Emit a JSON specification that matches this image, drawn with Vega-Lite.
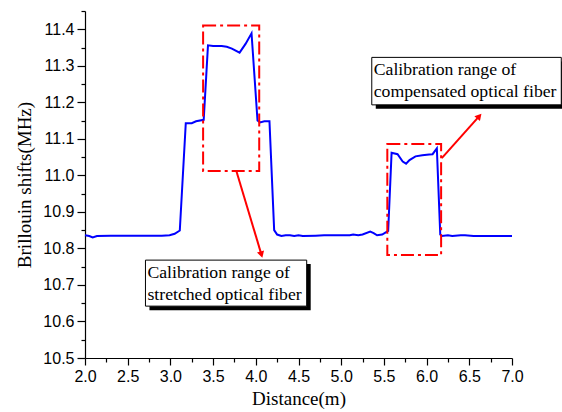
{
  "$schema": "https://vega.github.io/schema/vega-lite/v6.json",
  "width": 427,
  "height": 347,
  "autosize": {"type": "none"},
  "padding": {"left": 85, "top": 11, "right": 50, "bottom": 54},
  "background": "white",
  "config": {
    "view": {"stroke": null},
    "axis": {
      "grid": false,
      "domainColor": "black",
      "domainWidth": 1.2,
      "tickColor": "black",
      "tickWidth": 1.2,
      "labelColor": "black",
      "labelFont": "Liberation Sans",
      "labelFontSize": 16,
      "labelOverlap": false,
      "labelFlush": false,
      "titleFont": "Liberation Serif",
      "titleFontSize": 19,
      "titleFontWeight": "normal",
      "titleColor": "black"
    }
  },
  "datasets": {
    "curve": [
      {"x": 2.00, "y": 10.836}, {"x": 2.05, "y": 10.834}, {"x": 2.09, "y": 10.830}, {"x": 2.14, "y": 10.834},
      {"x": 2.30, "y": 10.835}, {"x": 2.60, "y": 10.835}, {"x": 2.90, "y": 10.835}, {"x": 2.99, "y": 10.836},
      {"x": 3.05, "y": 10.840}, {"x": 3.11, "y": 10.849}, {"x": 3.18, "y": 11.143}, {"x": 3.25, "y": 11.143},
      {"x": 3.30, "y": 11.148}, {"x": 3.39, "y": 11.152}, {"x": 3.44, "y": 11.356}, {"x": 3.50, "y": 11.354},
      {"x": 3.60, "y": 11.354}, {"x": 3.66, "y": 11.352}, {"x": 3.72, "y": 11.347}, {"x": 3.81, "y": 11.336},
      {"x": 3.88, "y": 11.360}, {"x": 3.95, "y": 11.389}, {"x": 4.02, "y": 11.150}, {"x": 4.05, "y": 11.145},
      {"x": 4.10, "y": 11.148}, {"x": 4.16, "y": 11.148}, {"x": 4.215, "y": 10.850}, {"x": 4.25, "y": 10.838},
      {"x": 4.30, "y": 10.834}, {"x": 4.35, "y": 10.836}, {"x": 4.40, "y": 10.836}, {"x": 4.45, "y": 10.834},
      {"x": 4.50, "y": 10.836}, {"x": 4.55, "y": 10.834}, {"x": 4.70, "y": 10.835}, {"x": 4.80, "y": 10.836},
      {"x": 5.10, "y": 10.836}, {"x": 5.14, "y": 10.838}, {"x": 5.20, "y": 10.836}, {"x": 5.25, "y": 10.838},
      {"x": 5.34, "y": 10.846}, {"x": 5.38, "y": 10.842}, {"x": 5.42, "y": 10.836}, {"x": 5.48, "y": 10.838},
      {"x": 5.55, "y": 10.848}, {"x": 5.59, "y": 11.062}, {"x": 5.66, "y": 11.058}, {"x": 5.72, "y": 11.038},
      {"x": 5.76, "y": 11.032}, {"x": 5.80, "y": 11.042}, {"x": 5.87, "y": 11.052}, {"x": 5.95, "y": 11.055},
      {"x": 6.03, "y": 11.057}, {"x": 6.07, "y": 11.058}, {"x": 6.12, "y": 11.074}, {"x": 6.16, "y": 10.838},
      {"x": 6.18, "y": 10.834}, {"x": 6.25, "y": 10.836}, {"x": 6.30, "y": 10.834}, {"x": 6.40, "y": 10.836},
      {"x": 6.45, "y": 10.836}, {"x": 6.55, "y": 10.834}, {"x": 7.00, "y": 10.834}
    ],
    "frames": [
      {"x": 3.383, "x_end": 4.04, "y": 11.41, "y_end": 11.012},
      {"x": 5.54, "x_end": 6.17, "y": 11.086, "y_end": 10.782}
    ],
    "arrows": [
      {"x": 3.775, "y": 11.01, "x_end": 4.066, "y_end": 10.783},
      {"x": 6.178, "y": 11.047, "x_end": 6.617, "y_end": 11.162}
    ],
    "heads": [
      {"id": "a", "x": 4.066, "y": 10.783},
      {"id": "b", "x": 6.617, "y": 11.162}
    ],
    "labels": [
      {"x": 2.708, "x_end": 4.596, "y": 10.768, "y_end": 10.642, "text": "Calibration range of\nstretched optical fiber"},
      {"x": 5.358, "x_end": 7.577, "y": 11.323, "y_end": 11.193, "text": "Calibration range of\ncompensated optical fiber"}
    ]
  },
  "encoding": {
    "x": {
      "field": "x", "type": "quantitative",
      "scale": {"domain": [2, 7], "nice": false, "zero": false},
      "axis": {
        "title": "Distance(m)",
        "values": [2, 2.25, 2.5, 2.75, 3, 3.25, 3.5, 3.75, 4, 4.25, 4.5, 4.75, 5, 5.25, 5.5, 5.75, 6, 6.25, 6.5, 6.75, 7],
        "labelExpr": "abs(datum.value*2 - round(datum.value*2)) < 0.01 ? format(datum.value, '.1f') : ''",
        "tickSize": {"condition": {"test": "abs(datum.value*2 - round(datum.value*2)) > 0.01", "value": 4}, "value": 7},
        "labelPadding": 3,
        "titlePadding": 5,
        "labelFlush": false,
        "labelOverlap": false
      }
    },
    "y": {
      "field": "y", "type": "quantitative",
      "scale": {"domain": [10.5, 11.45], "nice": false, "zero": false},
      "axis": {
        "title": "Brillouin shifts(MHz)",
        "values": [10.5, 10.55, 10.6, 10.65, 10.7, 10.75, 10.8, 10.85, 10.9, 10.95, 11, 11.05, 11.1, 11.15, 11.2, 11.25, 11.3, 11.35, 11.4, 11.45],
        "labelExpr": "abs(datum.value*10 - round(datum.value*10)) < 0.01 ? format(datum.value, '.1f') : ''",
        "tickSize": {"condition": {"test": "abs(datum.value*10 - round(datum.value*10)) > 0.01", "value": 4}, "value": 8},
        "labelPadding": 3,
        "titlePadding": 8,
        "labelFlush": false,
        "labelOverlap": false
      }
    }
  },
  "layer": [
    {
      "data": {"name": "curve"},
      "mark": {"type": "line", "color": "#0000FF", "strokeWidth": 2}
    },
    {
      "data": {"name": "frames"},
      "mark": {"type": "rect", "fill": null, "fillOpacity": 0, "stroke": "#FF0000", "strokeWidth": 2, "strokeDash": [13, 4, 3, 4]},
      "encoding": {
        "x2": {"field": "x_end"},
        "y2": {"field": "y_end"}
      }
    },
    {
      "data": {"name": "arrows"},
      "mark": {"type": "rule", "color": "#FF0000", "strokeWidth": 2},
      "encoding": {
        "x2": {"field": "x_end"},
        "y2": {"field": "y_end"}
      }
    },
    {
      "data": {"name": "heads"},
      "transform": [{"filter": "datum.id === 'a'"}],
      "mark": {"type": "point", "shape": "triangle-up", "filled": true, "color": "#FF0000", "size": 55, "angle": 163.3, "opacity": 1}
    },
    {
      "data": {"name": "heads"},
      "transform": [{"filter": "datum.id === 'b'"}],
      "mark": {"type": "point", "shape": "triangle-up", "filled": true, "color": "#FF0000", "size": 55, "angle": 41.4, "opacity": 1}
    },
    {
      "data": {"name": "labels"},
      "mark": {"type": "rect", "fill": "black", "xOffset": 4, "x2Offset": 4, "yOffset": 4, "y2Offset": 4},
      "encoding": {
        "x2": {"field": "x_end"},
        "y2": {"field": "y_end"}
      }
    },
    {
      "data": {"name": "labels"},
      "mark": {"type": "rect", "fill": "white", "stroke": "black", "strokeWidth": 1},
      "encoding": {
        "x2": {"field": "x_end"},
        "y2": {"field": "y_end"}
      }
    },
    {
      "data": {"name": "labels"},
      "mark": {"type": "text", "align": "left", "baseline": "top", "dx": 2, "dy": 4, "font": "Liberation Serif", "fontSize": 17.7, "lineBreak": "\n", "lineHeight": 22, "color": "black"},
      "encoding": {
        "text": {"field": "text"}
      }
    }
  ]
}
